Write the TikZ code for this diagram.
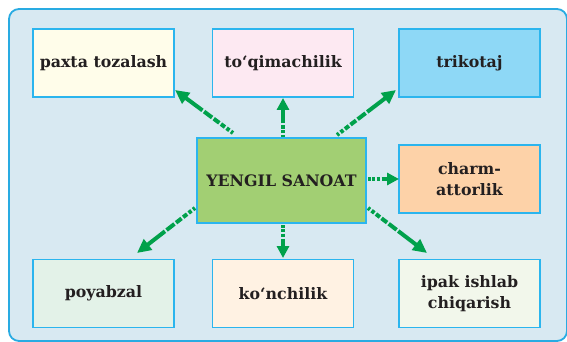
\documentclass[tikz,border=0pt]{standalone}
\usepackage{fontspec}
\setmainfont{DejaVu Serif}
\usetikzlibrary{arrows.meta}
\definecolor{panelfill}{HTML}{D8E9F2}
\definecolor{panelline}{HTML}{29ABE2}
\definecolor{boxline}{HTML}{2BB5EE}
\definecolor{cpaxta}{HTML}{FFFDEA}
\definecolor{ctoq}{HTML}{FDE9F2}
\definecolor{ctrik}{HTML}{8ED8F6}
\definecolor{ccharm}{HTML}{FDD2A8}
\definecolor{cgreen}{HTML}{A2CF73}
\definecolor{cpoy}{HTML}{E3F2E8}
\definecolor{ckon}{HTML}{FFF2E3}
\definecolor{cipak}{HTML}{F2F7EB}
\definecolor{arrowgreen}{HTML}{00A14B}
\definecolor{txt}{HTML}{231F20}
\tikzset{
  branch/.style={draw=boxline, line width=1.2pt, minimum width=141pt, minimum height=68pt,
    inner sep=2pt, align=center, text=txt, font=\bfseries\fontsize{15.8}{21}\selectfont},
  longarrow/.style={draw=arrowgreen, line width=4pt,
    dash pattern=on 2.5pt off 2pt on 3.5pt off 2pt on 5pt off 2pt on 7pt off 2pt on 10pt off 2pt on 300pt,
    -{Triangle[width=13pt,length=14pt]}},
  shortarrow/.style={draw=arrowgreen, line width=4pt,
    dash pattern=on 2.5pt off 1.5pt on 3pt off 1.5pt on 3.5pt off 1.5pt on 300pt,
    -{Triangle[width=12pt,length=12pt]}}
}
\begin{document}
\begin{tikzpicture}[x=1pt,y=-1pt]
\useasboundingbox (0,0) rectangle (567,342);
\draw[fill=panelfill, draw=panelline, line width=1.8pt, rounded corners=10pt] (9,9) rectangle (567,341);
\node[branch, fill=cpaxta] (paxta) at (103.5,63) {paxta tozalash};
\node[branch, fill=ctoq] (toq) at (283,63) {to‘qimachilik};
\node[branch, fill=ctrik] (trik) at (469.5,63) {trikotaj};
\node[branch, fill=ccharm] (charm) at (469.5,179) {charm-\\attorlik};
\node[branch, fill=cpoy] (poy) at (103.5,293.5) {poyabzal};
\node[branch, fill=ckon] (kon) at (283,293.5) {ko‘nchilik};
\node[branch, fill=cipak] (ipak) at (469.5,293.5) {ipak ishlab\\chiqarish};
\node[branch, fill=cgreen, minimum width=169pt, minimum height=85pt] (main) at (281.5,180.5) {YENGIL SANOAT};
\coordinate (s1) at (233,133); \coordinate (e1) at (175,90);
\coordinate (s2) at (283,137); \coordinate (e2) at (283,98);
\coordinate (s3) at (337,135); \coordinate (e3) at (396,90);
\coordinate (s4) at (368,179); \coordinate (e4) at (399,179);
\coordinate (s5) at (368,208); \coordinate (e5) at (427,253);
\coordinate (s6) at (195,208); \coordinate (e6) at (137,253);
\coordinate (s7) at (283,225); \coordinate (e7) at (283,258);
\draw[longarrow] (s1) -- (e1);
\draw[shortarrow] (s2) -- (e2);
\draw[longarrow] (s3) -- (e3);
\draw[shortarrow] (s4) -- (e4);
\draw[longarrow] (s5) -- (e5);
\draw[longarrow] (s6) -- (e6);
\draw[shortarrow] (s7) -- (e7);
\end{tikzpicture}
\end{document}
